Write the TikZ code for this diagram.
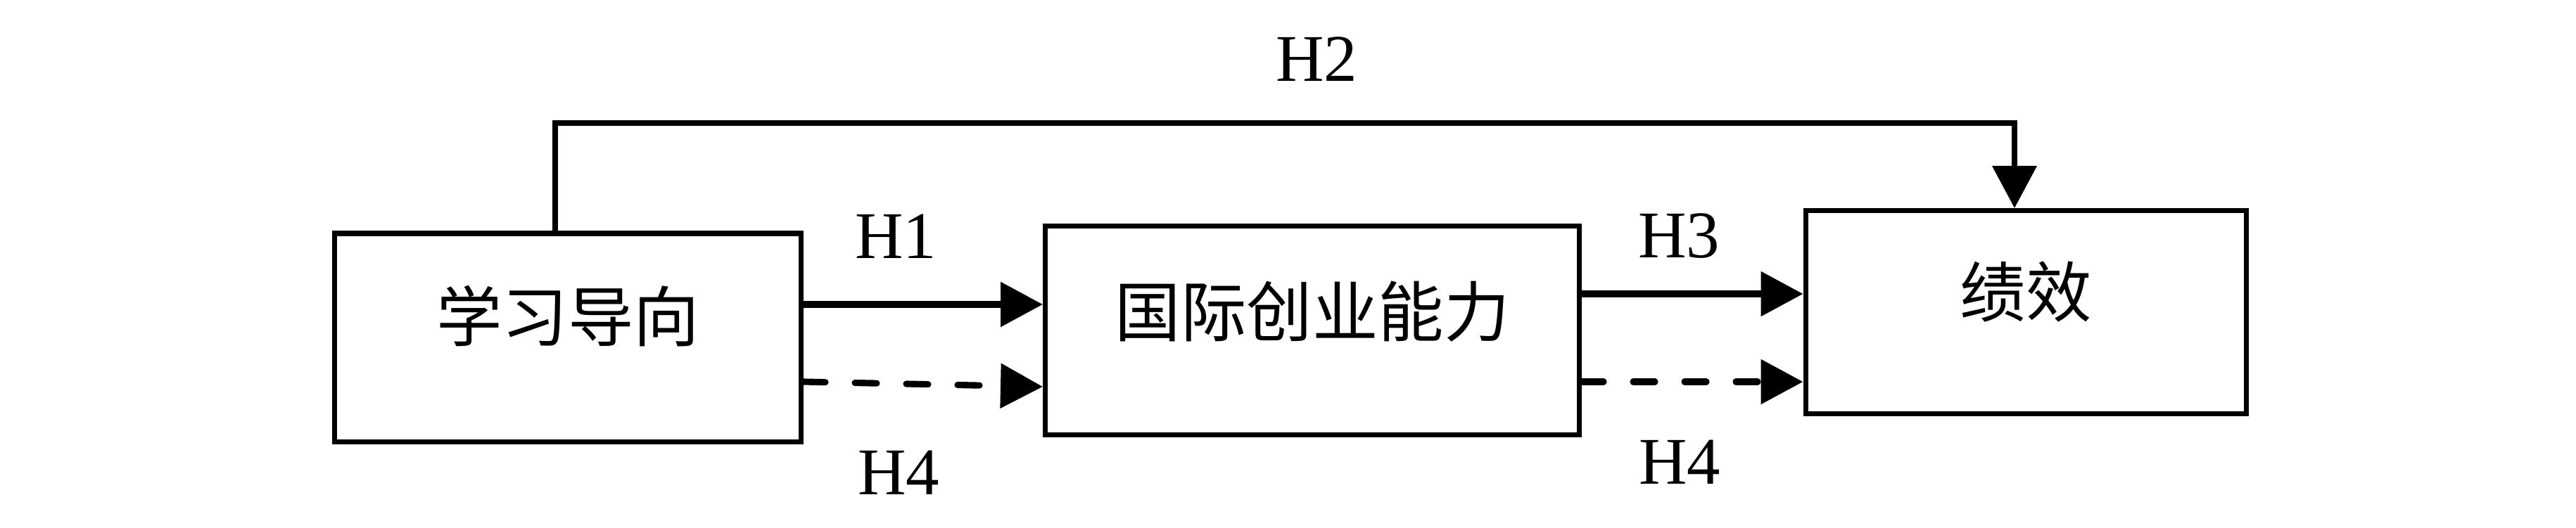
\documentclass[tikz,border=0pt]{standalone}
\usepackage{fontspec}
\setmainfont{Liberation Serif}
\newfontfamily\cjk{Noto Sans CJK SC}
\usetikzlibrary{arrows.meta,calc}
\tikzset{
  box/.style={draw, line width=2pt, inner sep=0pt},
  boxtext/.style={font=\cjk\fontsize{26.6}{30}\selectfont, inner sep=0pt},
  hlabel/.style={font=\fontsize{27}{30}\selectfont, inner sep=0pt},
  solidarrow/.style={line width=2.6pt, -{Triangle[length=0.6cm,width=0.62cm]}},
  dasharrow/.style={line width=2.6pt, line cap=round, dash pattern=on 0.31cm off 0.42cm, -{Triangle[length=0.6cm,width=0.62cm]}},
  linkarrow/.style={line width=2.1pt, -{Triangle[length=0.6cm,width=0.62cm]}}
}
\begin{document}
\begin{tikzpicture}
\useasboundingbox (0,0) rectangle (36.61,-7.5);
\node[box, minimum width=6.63cm, minimum height=2.96cm,
      label={[boxtext, yshift=0.30cm]center:学习导向}] (b1) at (8.07,-4.80) {};
\node[box, minimum width=7.59cm, minimum height=2.97cm,
      label={[boxtext, yshift=0.27cm]center:国际创业能力}] (b2) at (18.65,-4.70) {};
\node[box, minimum width=6.26cm, minimum height=2.89cm,
      label={[boxtext, yshift=0.29cm]center:绩效}] (b3) at (28.79,-4.44) {};

\coordinate (h2a) at (7.89,-1.75);
\coordinate (h2b) at (28.63,-1.75);
\draw[linkarrow] (b1.north -| h2a) -- (h2a) -- (h2b) -- (b3.north -| h2b);

\draw[solidarrow] (b1.east |- 0,-4.33) -- (b2.west |- 0,-4.33);
\draw[dasharrow] (b1.east |- 0,-5.43) -- (b2.west |- 0,-5.50);
\draw[solidarrow] (b2.east |- 0,-4.18) -- (b3.west |- 0,-4.18);
\draw[dasharrow] (b2.east |- 0,-5.43) -- (b3.west |- 0,-5.43);

\node[hlabel] (l2) at (18.71,-0.84) {H2};
\node[hlabel] (l1) at (12.73,-3.36) {H1};
\node[hlabel] (l4a) at (12.77,-6.72) {H4};
\node[hlabel] (l3) at (23.86,-3.36) {H3};
\node[hlabel] (l4b) at (23.87,-6.57) {H4};
\end{tikzpicture}
\end{document}
